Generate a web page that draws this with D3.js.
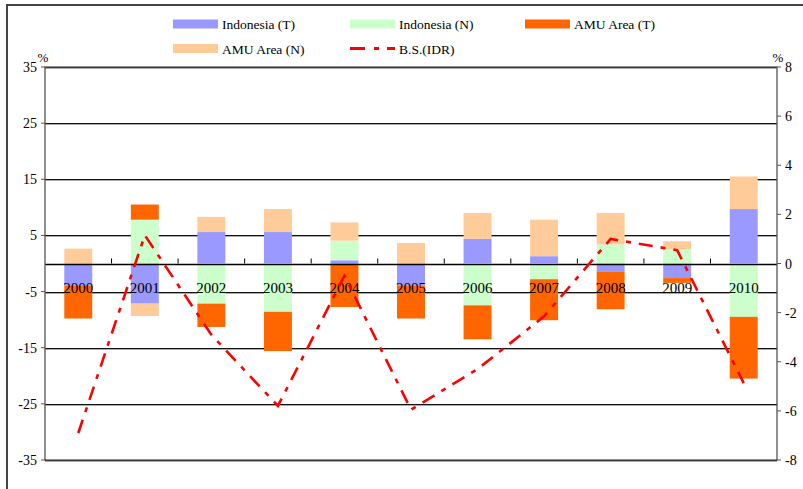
<!DOCTYPE html>
<html>
<head>
<meta charset="utf-8">
<script src="https://cdn.jsdelivr.net/npm/d3@7"></script>
<style>
  html, body { margin: 0; padding: 0; background: #fff; }
  svg { display: block; }
</style>
</head>
<body>
<svg id="chart" width="803" height="489" font-family="'Liberation Serif', 'DejaVu Serif', serif"></svg>
<script>
// Years on the category axis
const years = ["2000","2001","2002","2003","2004","2005","2006","2007","2008","2009","2010"];
// Contributions (%), left axis
const indonesiaT = [-3.9, -7.15, 5.6, 5.6, 0.57, -3.9, 4.4, 1.3, -1.4, -2.6, 9.7];
const indonesiaN = [0, 7.8, -7.15, -8.6, 3.5, 0, -7.45, -2.8, 3.4, 2.5, -9.5];
const amuT = [-5.9, 2.7, -4.15, -7.0, -7.75, -5.9, -6.05, -7.3, -6.75, -0.85, -11.0];
const amuN = [2.65, -2.2, 2.7, 4.1, 3.25, 3.65, 4.6, 6.5, 5.6, 1.45, 5.8];
// B.S.(IDR), right axis (%)
const bsIDR = [-6.9, 1.15, -2.9, -5.8, -0.5, -5.95, -4.3, -2.15, 1.0, 0.54, -4.87];

const leftTicks = [35, 25, 15, 5, -5, -15, -25, -35];
const rightTicks = [8, 6, 4, 2, 0, -2, -4, -6, -8];

const seriesNames = ["Indonesia (T)", "Indonesia (N)", "AMU Area (T)", "AMU Area (N)"];
const seriesColors = ["#9999FF", "#CCFFCC", "#FF6600", "#FFCC99"];
const lineName = "B.S.(IDR)";
const lineColor = "#FF0000";
const dashPattern = "14,8,5,8";
const FONT = "'Liberation Serif', 'Times New Roman', serif";

const svg = d3.select("#chart");

// Outer frame
svg.append("rect")
  .attr("x", 7).attr("y", 5).attr("width", 800).attr("height", 490)
  .attr("fill", "none").attr("stroke", "#444").attr("stroke-width", 2);

const plot = { left: 45, right: 777, top: 67, bottom: 460 };

const x = d3.scaleBand().domain(years).range([plot.left, plot.right]).paddingInner(0).paddingOuter(0);
const y = d3.scaleLinear().domain([-35, 35]).range([plot.bottom, plot.top]);
const yR = d3.scaleLinear().domain([-8, 8]).range([plot.bottom, plot.top]);

// Horizontal gridlines (dark line with a soft grey edge below)
const gGrid = svg.append("g");
gGrid.selectAll("line.shade").data(leftTicks).join("line").attr("class", "shade")
  .attr("x1", plot.left).attr("x2", plot.right)
  .attr("y1", d => Math.round(y(d)) + 1.5).attr("y2", d => Math.round(y(d)) + 1.5)
  .attr("stroke", "#aaa").attr("stroke-width", 1);
gGrid.selectAll("line.main").data(leftTicks).join("line").attr("class", "main")
  .attr("x1", plot.left).attr("x2", plot.right)
  .attr("y1", d => Math.round(y(d)) + 0.5).attr("y2", d => Math.round(y(d)) + 0.5)
  .attr("stroke", "#111").attr("stroke-width", 1);

// Stacked bars (positive and negative stacks separately)
const table = years.map((yr, i) => ({
  year: yr,
  s0: indonesiaT[i], s1: indonesiaN[i], s2: amuT[i], s3: amuN[i]
}));
const keys = ["s0", "s1", "s2", "s3"];
const stacked = d3.stack().keys(keys).offset(d3.stackOffsetDiverging)(table);
const barW = x.bandwidth() * 0.42;

const gBars = svg.append("g");
stacked.forEach((layer, k) => {
  gBars.append("g").attr("fill", seriesColors[k])
    .selectAll("rect").data(layer).join("rect")
    .attr("x", d => x(d.data.year) + (x.bandwidth() - barW) / 2)
    .attr("width", barW)
    .attr("y", d => y(Math.max(d[0], d[1])))
    .attr("height", d => Math.abs(y(d[0]) - y(d[1])));
});

// Zero line and category ticks
svg.append("line")
  .attr("x1", plot.left).attr("x2", plot.right)
  .attr("y1", Math.round(y(0)) + 0.5).attr("y2", Math.round(y(0)) + 0.5)
  .attr("stroke", "#000").attr("stroke-width", 1.3);
svg.append("g").selectAll("line").data(years.slice(1)).join("line")
  .attr("x1", d => x(d)).attr("x2", d => x(d))
  .attr("y1", y(0) - 5).attr("y2", y(0))
  .attr("stroke", "#000").attr("stroke-width", 1);

// Plot area frame
svg.append("rect")
  .attr("x", plot.left).attr("y", plot.top)
  .attr("width", plot.right - plot.left).attr("height", plot.bottom - plot.top)
  .attr("fill", "none").attr("stroke", "#555").attr("stroke-width", 1.3);

// Category labels
svg.append("g").selectAll("text").data(years).join("text")
  .attr("x", d => x(d) + x.bandwidth() / 2)
  .attr("y", y(0) + 29)
  .attr("text-anchor", "middle")
  .attr("font-family", FONT)
  .attr("font-size", 15)
  .text(d => d);

// B.S.(IDR) line
const line = d3.line()
  .x((d, i) => x(years[i]) + x.bandwidth() / 2)
  .y(d => yR(d));
svg.append("path")
  .datum(bsIDR)
  .attr("d", line)
  .attr("fill", "none")
  .attr("stroke", lineColor)
  .attr("stroke-width", 2.6)
  .attr("stroke-dasharray", dashPattern);

// Left axis
const gL = svg.append("g");
gL.selectAll("line").data(leftTicks).join("line")
  .attr("x1", plot.left - 4).attr("x2", plot.left)
  .attr("y1", d => y(d)).attr("y2", d => y(d))
  .attr("stroke", "#555");
gL.selectAll("text").data(leftTicks).join("text")
  .attr("x", plot.left - 8).attr("y", d => y(d) + 5)
  .attr("text-anchor", "end").attr("font-family", FONT).attr("font-size", 14)
  .text(d => d);
svg.append("text").attr("x", 43).attr("y", 62).attr("text-anchor", "middle")
  .attr("font-family", FONT).attr("font-size", 13).text("%");

// Right axis
const gR = svg.append("g");
gR.selectAll("line").data(rightTicks).join("line")
  .attr("x1", plot.right).attr("x2", plot.right + 4)
  .attr("y1", d => yR(d)).attr("y2", d => yR(d))
  .attr("stroke", "#555");
gR.selectAll("text").data(rightTicks).join("text")
  .attr("x", plot.right + 8).attr("y", d => yR(d) + 5)
  .attr("text-anchor", "start").attr("font-family", FONT).attr("font-size", 14)
  .text(d => d);
svg.append("text").attr("x", 778).attr("y", 62).attr("text-anchor", "middle")
  .attr("font-family", FONT).attr("font-size", 13).text("%");

// Legend
const legendItems = [
  { name: seriesNames[0], color: seriesColors[0], x: 173, y: 24, type: "bar" },
  { name: seriesNames[1], color: seriesColors[1], x: 350, y: 24, type: "bar" },
  { name: seriesNames[2], color: seriesColors[2], x: 525, y: 24, type: "bar" },
  { name: seriesNames[3], color: seriesColors[3], x: 173, y: 48.5, type: "bar" },
  { name: lineName, color: lineColor, x: 350, y: 48.5, type: "line" }
];
const gLeg = svg.append("g");
legendItems.forEach(it => {
  if (it.type === "bar") {
    gLeg.append("rect").attr("x", it.x).attr("y", it.y - 4.5)
      .attr("width", 45).attr("height", 9).attr("fill", it.color);
  } else {
    gLeg.append("line").attr("x1", it.x).attr("x2", it.x + 45)
      .attr("y1", it.y).attr("y2", it.y)
      .attr("stroke", it.color).attr("stroke-width", 3)
      .attr("stroke-dasharray", "15,9,5,8");
  }
  gLeg.append("text").attr("x", it.x + 49).attr("y", it.y + 5)
    .attr("font-family", FONT).attr("font-size", 13.5).text(it.name);
});
</script>
</body>
</html>
